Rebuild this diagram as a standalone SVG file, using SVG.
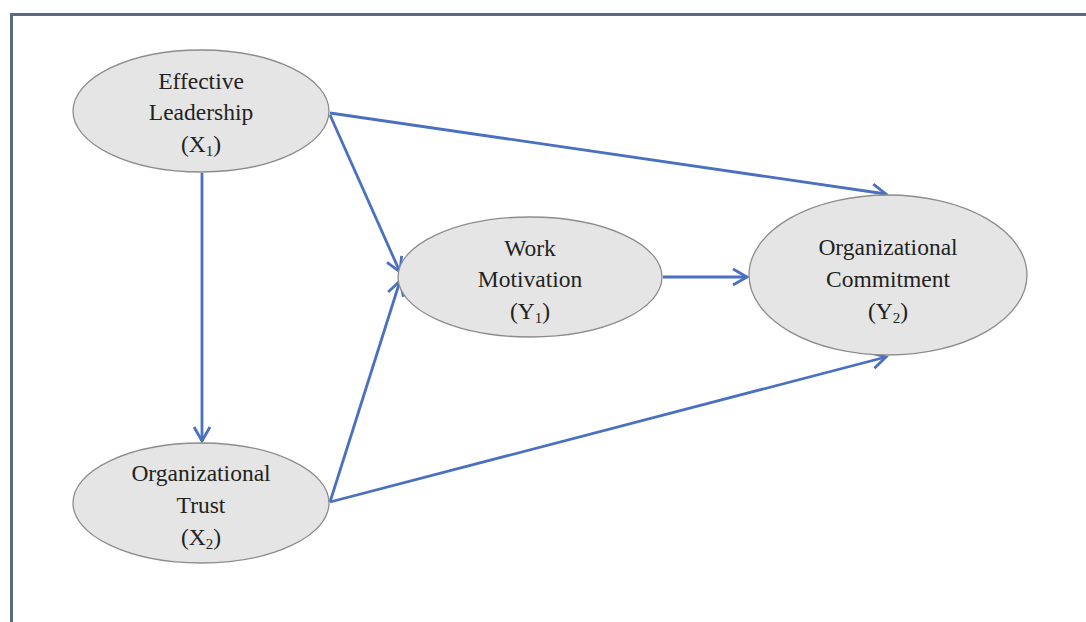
<svg xmlns="http://www.w3.org/2000/svg" width="1086" height="622" viewBox="0 0 1086 622">
<defs>
<style>
.node ellipse{fill:#e5e5e5;stroke:#8c8c8c;stroke-width:1.3}
.node text{font-family:"Liberation Serif","Times New Roman",serif;font-size:23.5px;fill:#222;text-anchor:middle}
.node tspan.sub{font-size:15px}
#connectors line{stroke:#4a70c0;stroke-width:2.8;fill:none;marker-end:url(#arr)}
</style>
<marker id="arr" markerWidth="20" markerHeight="20" refX="16" refY="10" orient="auto" markerUnits="userSpaceOnUse">
<path d="M2,2 L16,10 L2,18" fill="none" stroke="#4a70c0" stroke-width="2.8" stroke-linejoin="miter"/>
</marker>
</defs>
<rect width="1086" height="622" fill="#ffffff"/>
<path d="M11.5,622 L11.5,14.5 L1086,14.5" fill="none" stroke="#5a6a82" stroke-width="3"/>
<g id="connectors">
<line x1="330" y1="113" x2="886" y2="194"/>
<line x1="330" y1="115" x2="400" y2="272"/>
<line x1="202" y1="173" x2="202" y2="441"/>
<line x1="330" y1="502" x2="400" y2="281"/>
<line x1="330" y1="502" x2="886" y2="357"/>
<line x1="663" y1="277" x2="747" y2="277"/>
</g>
<g id="effective-leadership" class="node">
<ellipse cx="201" cy="111" rx="128" ry="61"/>
<text x="201" y="89">Effective</text>
<text x="201" y="120">Leadership</text>
<text x="201" y="152">(X<tspan class="sub" dy="4">1</tspan><tspan dy="-4">)</tspan></text>
</g>
<g id="organizational-trust" class="node">
<ellipse cx="201" cy="503" rx="128" ry="60"/>
<text x="201" y="481">Organizational</text>
<text x="201" y="513">Trust</text>
<text x="201" y="545">(X<tspan class="sub" dy="4">2</tspan><tspan dy="-4">)</tspan></text>
</g>
<g id="work-motivation" class="node">
<ellipse cx="530" cy="277" rx="132" ry="60"/>
<text x="530" y="256">Work</text>
<text x="530" y="287">Motivation</text>
<text x="530" y="319">(Y<tspan class="sub" dy="4">1</tspan><tspan dy="-4">)</tspan></text>
</g>
<g id="organizational-commitment" class="node">
<ellipse cx="888" cy="275" rx="139" ry="80"/>
<text x="888" y="255">Organizational</text>
<text x="888" y="287">Commitment</text>
<text x="888" y="319">(Y<tspan class="sub" dy="4">2</tspan><tspan dy="-4">)</tspan></text>
</g>
</svg>
